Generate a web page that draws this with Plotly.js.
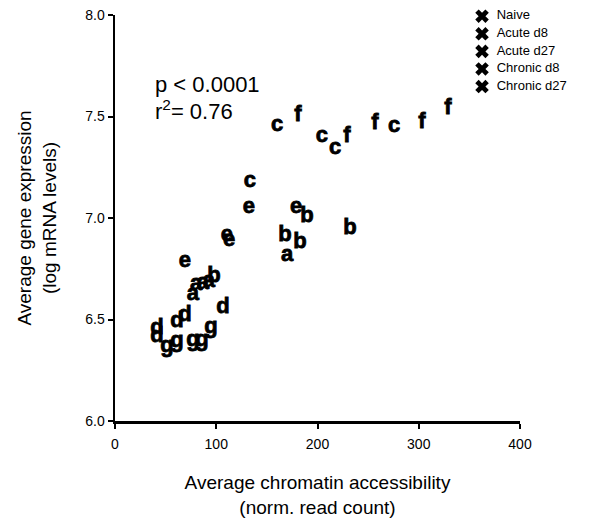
<!DOCTYPE html>
<html>
<head>
<meta charset="utf-8">
<script src="https://cdn.plot.ly/plotly-3.0.1.min.js"></script>
<style>
html,body{margin:0;padding:0;background:#fff;}
#chart{width:600px;height:527px;}
#chart .scatterlayer .trace:nth-child(-n+7) .textpoint text{stroke:#000;stroke-width:0.8px;}
</style>
</head>
<body>
<div id="chart"></div>
<script>
// Gene-cluster letters and their points (chromatin accessibility, log expression)
const letters = ["a", "b", "c", "d", "e", "f", "g"];
const xA = [77.0, 80.0, 86.9, 92.8, 169.9];
const yA = [6.624, 6.673, 6.678, 6.688, 6.817];
const xB = [97.8, 167.9, 182.7, 189.6, 232.1];
const yB = [6.713, 6.916, 6.881, 7.005, 6.946];
const xC = [133.3, 160.0, 204.4, 217.3, 275.6];
const yC = [7.178, 7.455, 7.401, 7.342, 7.450];
const xD = [41.5, 41.5, 61.2, 69.1, 106.7];
const yD = [6.455, 6.416, 6.490, 6.520, 6.559];
const xE = [69.1, 110.6, 112.6, 132.3, 178.8];
const yE = [6.787, 6.916, 6.891, 7.050, 7.054];
const xF = [180.7, 229.1, 256.8, 303.2, 328.9];
const yF = [7.505, 7.401, 7.465, 7.470, 7.540];
const xG = [51.4, 61.2, 77.0, 85.9, 94.8];
const yG = [6.366, 6.391, 6.396, 6.396, 6.460];
const conditions = ["Naive", "Acute d8", "Acute d27", "Chronic d8", "Chronic d27"];
const xTicks = [0, 100, 200, 300, 400];
const yTicks = [6.0, 6.5, 7.0, 7.5, 8.0];
const statLines = ["p < 0.0001", "r<sup>2</sup>= 0.76"];

const FONT = "Liberation Sans, Arial, sans-serif";
const xs = [xA, xB, xC, xD, xE, xF, xG];
const ys = [yA, yB, yC, yD, yE, yF, yG];

const traces = [];
letters.forEach((L, i) => {
  traces.push({
    type: "scatter", mode: "text",
    x: xs[i], y: ys[i],
    text: xs[i].map(() => L),
    textposition: "middle center",
    textfont: {family: FONT, size: 22, color: "#000", weight: "bold"},
    showlegend: false, hoverinfo: "x+y", cliponaxis: false
  });
});

// legend drawn in the plot's own coordinates (top-right corner)
const legX = 362.5, legTextX = 377, legTop = 7.994, legStep = 0.0866;
const legY = conditions.map((c, i) => legTop - i * legStep);
traces.push({
  type: "scatter", mode: "markers",
  x: conditions.map(() => legX), y: legY,
  marker: {symbol: "x", size: 12, color: "#000"},
  showlegend: false, hoverinfo: "skip", cliponaxis: false
});
traces.push({
  type: "scatter", mode: "text",
  x: conditions.map(() => legTextX), y: legY,
  text: conditions,
  textposition: "middle right",
  textfont: {family: FONT, size: 13, color: "#000"},
  showlegend: false, hoverinfo: "text", cliponaxis: false
});

const layout = {
  width: 600, height: 527,
  margin: {l: 115, r: 80, t: 15, b: 106},
  paper_bgcolor: "#fff", plot_bgcolor: "#fff",
  font: {family: FONT, color: "#000"},
  showlegend: false,
  xaxis: {
    range: [0, 400], tickvals: xTicks, ticktext: xTicks.map(String),
    showgrid: false, zeroline: false,
    showline: true, linecolor: "#000", linewidth: 2.5,
    ticks: "outside", ticklen: 5, tickwidth: 2, tickcolor: "#000",
    ticklabelstandoff: 4,
    tickfont: {family: FONT, size: 14, color: "#000"},
    title: {text: "Average chromatin accessibility<br>(norm. read count)",
            font: {family: FONT, size: 19, color: "#000"}, standoff: 25},
    automargin: false
  },
  yaxis: {
    range: [6, 8], tickvals: yTicks, ticktext: yTicks.map(v => v.toFixed(1)),
    showgrid: false, zeroline: false,
    showline: true, linecolor: "#000", linewidth: 2.5,
    ticks: "outside", ticklen: 5, tickwidth: 2, tickcolor: "#000",
    tickfont: {family: FONT, size: 14, color: "#000"},
    title: {text: "Average gene expression<br>(log mRNA levels)",
            font: {family: FONT, size: 19, color: "#000"}, standoff: 24},
    automargin: false
  },
  annotations: [
    {x: 37.5, y: 7.66, xref: "x", yref: "y", text: statLines[0], showarrow: false,
     xanchor: "left", yanchor: "middle", font: {family: FONT, size: 22, color: "#000"}},
    {x: 37.5, y: 7.532, xref: "x", yref: "y", text: statLines[1], showarrow: false,
     xanchor: "left", yanchor: "middle", font: {family: FONT, size: 22, color: "#000"}}
  ]
};

Plotly.newPlot("chart", traces, layout, {displayModeBar: false, staticPlot: true});
</script>
</body>
</html>
